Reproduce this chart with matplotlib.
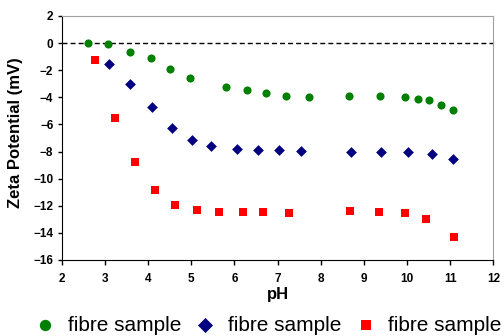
import matplotlib
matplotlib.use("Agg")
import matplotlib.pyplot as plt

plt.rcParams['font.family'] = ['Liberation Sans', 'DejaVu Sans']

# sample 1 (green circles)
ph1 = [2.62, 3.08, 3.58, 4.06, 4.51, 4.97, 5.80, 6.29, 6.74, 7.20, 7.73,
       8.66, 9.38, 9.96, 10.26, 10.52, 10.79, 11.07]
zeta1 = [0.0, -0.07, -0.62, -1.13, -1.90, -2.54, -3.23, -3.45, -3.67, -3.89,
         -3.94, -3.89, -3.91, -3.99, -4.11, -4.23, -4.53, -4.92]

# sample 2 (blue diamonds)
ph2 = [3.10, 3.58, 4.09, 4.56, 5.01, 5.47, 6.06, 6.54, 7.04, 7.55, 8.70,
       9.40, 10.02, 10.59, 11.06]
zeta2 = [-1.53, -3.0, -4.75, -6.27, -7.14, -7.60, -7.82, -7.90, -7.92, -7.97,
         -8.0, -8.0, -8.05, -8.17, -8.54]

# sample 3 (red squares)
ph3 = [2.78, 3.24, 3.71, 4.17, 4.63, 5.13, 5.64, 6.19, 6.66, 7.27, 8.69,
       9.36, 9.96, 10.45, 11.10]
zeta3 = [-1.21, -5.56, -8.78, -10.83, -11.93, -12.30, -12.47, -12.47, -12.47,
         -12.50, -12.38, -12.43, -12.55, -12.97, -14.27]

labels = ['fibre sample', 'fibre sample', 'fibre sample']

fig = plt.figure(figsize=(5.04, 3.36), dpi=100)
ax = fig.add_axes([0.1224, 0.2262, 0.8564, 0.7262])

ax.axhline(0, color='black', lw=1, ls=(0, (3.6, 2.2)), zorder=1)
ax.scatter(ph1, zeta1, s=34, marker='o', color='#008000', label=labels[0],
           zorder=3, linewidths=0)
ax.scatter(ph2, zeta2, s=30, marker='D', color='#000080', label=labels[1],
           zorder=3, linewidths=0)
ax.scatter(ph3, zeta3, s=28, marker='s', color='#ff0000', label=labels[2],
           zorder=3, linewidths=0)

ax.set_xlim(2, 12)
ax.set_ylim(-16, 2)
ax.set_xticks(range(2, 13))
ax.set_yticks(range(-16, 3, 2))
for lab in ax.get_xticklabels() + ax.get_yticklabels():
    lab.set_fontweight('bold')
ax.tick_params(axis='x', labelsize=8.5, length=3.5, width=1, pad=6)
ax.tick_params(axis='y', labelsize=8.5, length=3, width=1, pad=3)

ax.spines['left'].set_color('black')
ax.spines['bottom'].set_color('black')
ax.spines['top'].set_color('#a0a0a0')
ax.spines['right'].set_color('#a0a0a0')

ax.set_xlabel('pH', fontsize=12, fontweight='bold')
ax.set_ylabel('Zeta Potential (mV)', fontsize=12, fontweight='bold')
ax.xaxis.set_label_coords(0.5, -0.112)
ax.yaxis.set_label_coords(-0.09, 0.52)

fig.legend(loc='center left', bbox_to_anchor=(0.0687, 0.032), ncol=3,
           frameon=False, fontsize=15, handlelength=1.0, handletextpad=0.6,
           columnspacing=0.65, markerscale=1.4, borderpad=0, borderaxespad=0)

fig.savefig('out.png', dpi=100)
